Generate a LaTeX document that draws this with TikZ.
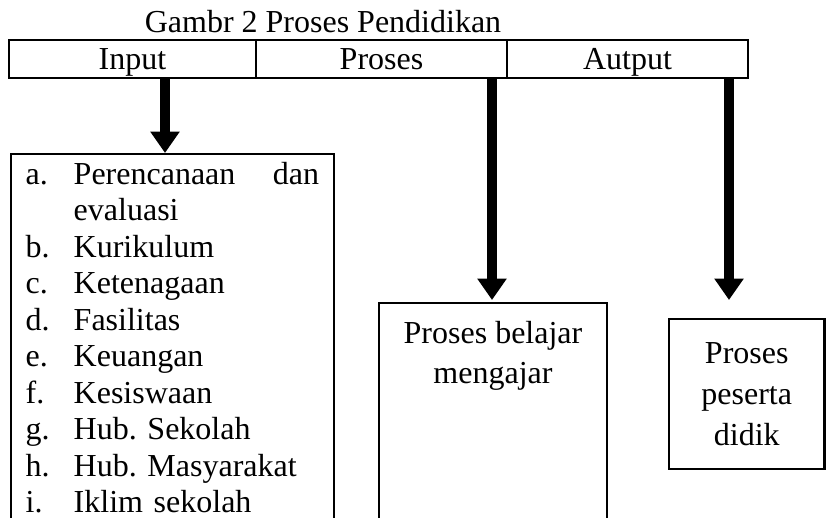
\documentclass[tikz,border=0pt]{standalone}
\usepackage{fontspec}
\setmainfont{Liberation Serif}
\usetikzlibrary{arrows.meta}
\frenchspacing
\newcommand{\butir}[2]{\makebox[18pt][l]{#1}#2}
\begin{document}
\begin{tikzpicture}
        [x=0.375pt, y=-0.375pt, font=\fontsize{12pt}{13.7pt}\selectfont,
        head/.style={draw, line width=0.8pt, minimum height=14.25pt, inner sep=0pt, text height=8pt, text depth=0pt},
        box/.style={draw, line width=0.8pt, inner sep=0pt},
        arrow/.style={line width=3.4pt, -{Triangle[width=10.5pt, length=8pt]}}]
        \useasboundingbox (0,0) rectangle (826,518);
        \clip (0,0) rectangle (826,518);
        \node[anchor=base] (T) at (323,33) {Gambr 2 Proses Pendidikan};
        \node[head, minimum width=92.6pt] (A) at (132.5,59) {Input};
        \node[head, minimum width=94.1pt] (B) at (381.5,59) {Proses};
        \node[head, minimum width=90.4pt] (C) at (627.5,59) {Autput};

        \node[box, anchor=north west, text width=110pt, inner xsep=5.5pt, inner ysep=3.25pt, text height=8pt, text depth=140pt, align=left] (D) at (10,153)
            {\butir{a.}{\makebox[92pt]{Perencanaan\hfill dan}}\\
             \butir{}{evaluasi}\\
             \butir{b.}{Kurikulum}\\
             \butir{c.}{Ketenagaan}\\
             \butir{d.}{Fasilitas}\\
             \butir{e.}{Keuangan}\\
             \butir{f.}{Kesiswaan}\\
             \butir{g.}{Hub. Sekolah}\\
             \butir{h.}{Hub. Masyarakat}\\
             \butir{i.}{Iklim sekolah}};
        \node[box, anchor=north, minimum width=85.5pt, align=center, inner ysep=5pt, text height=25.3pt, text depth=75pt, font=\fontsize{12pt}{15.3pt}\selectfont] (E) at (493,302) {Proses belajar\\mengajar};
        \node[box, minimum width=58.3pt, minimum height=56.25pt, align=center, font=\fontsize{12pt}{15.3pt}\selectfont] (F) at (746.75,394) {Proses\\peserta\\didik};

        \coordinate (a) at (165,153);
        \coordinate (b) at (492,300);
        \coordinate (c) at (729,300);
        \draw[arrow] (A.south -| a) -- (D.north -| a);
        \draw[arrow] (B.south -| b) -- (b);
        \draw[arrow] (C.south -| c) -- (c);
    
    \end{tikzpicture}
\end{document}
